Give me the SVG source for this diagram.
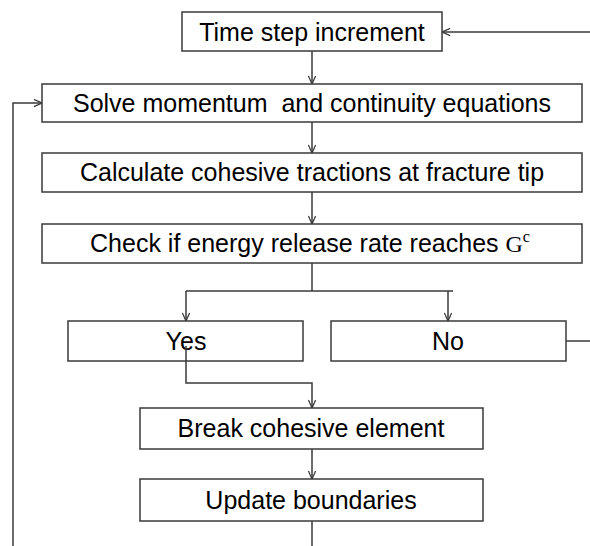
<svg xmlns="http://www.w3.org/2000/svg" width="590" height="546" viewBox="0 0 590 546">
  <style>
    .box { fill: #ffffff; stroke: #3a3a3a; stroke-width: 1.5; }
    .lbl { font-family: "Liberation Sans", Arial, sans-serif; font-size: 25px; fill: #000000; text-anchor: middle; }
    .ser { font-family: "Liberation Serif", "Times New Roman", serif; }
    .wire { fill: none; stroke: #3a3a3a; stroke-width: 1.5; }
  </style>
  <defs>
    <marker id="arr" viewBox="0 0 10 10" refX="10" refY="5" markerWidth="9" markerHeight="9" orient="auto" markerUnits="userSpaceOnUse">
      <path d="M1,1 L10,5 L1,9" fill="none" stroke="#3a3a3a" stroke-width="1.4"/>
    </marker>
  </defs>
  <rect width="590" height="546" fill="#ffffff"/>

  <!-- connectors -->
  <g id="connectors">
    <path class="wire" d="M590,32 H442" marker-end="url(#arr)"/>
    <path class="wire" d="M312,51 V84" marker-end="url(#arr)"/>
    <path class="wire" d="M312,122 V153" marker-end="url(#arr)"/>
    <path class="wire" d="M312,192 V224" marker-end="url(#arr)"/>
    <path class="wire" d="M312,263 V291"/>
    <path class="wire" d="M186,291 H453"/>
    <path class="wire" d="M186,291 V321" marker-end="url(#arr)"/>
    <path class="wire" d="M448,291 V321" marker-end="url(#arr)"/>
    <path class="wire" d="M566,341 H590"/>
    <path class="wire" d="M312,449 V479" marker-end="url(#arr)"/>
    <path class="wire" d="M312,521 V546"/>
    <path class="wire" d="M13,546 V103 H42" marker-end="url(#arr)"/>
  </g>

  <g id="time-step">
    <rect class="box" x="182" y="12" width="260" height="39"/>
    <text class="lbl" x="312" y="41">Time step increment</text>
  </g>
  <g id="solve">
    <rect class="box" x="42" y="84" width="540" height="38"/>
    <text class="lbl" x="312" y="112" xml:space="preserve">Solve momentum  and continuity equations</text>
  </g>
  <g id="tractions">
    <rect class="box" x="42" y="153" width="540" height="39"/>
    <text class="lbl" x="312" y="181">Calculate cohesive tractions at fracture tip</text>
  </g>
  <g id="check">
    <rect class="box" x="42" y="224" width="540" height="39"/>
    <text class="lbl" x="310" y="252">Check if energy release rate reaches <tspan class="ser" font-size="24">G</tspan><tspan class="ser" font-size="16" dy="-10">c</tspan></text>
  </g>
  <g id="yes">
    <rect class="box" x="68" y="321" width="235" height="40"/>
    <text class="lbl" x="186" y="350">Yes</text>
  </g>
  <g id="no">
    <rect class="box" x="331" y="321" width="235" height="40"/>
    <text class="lbl" x="448" y="350">No</text>
  </g>
  <!-- Yes branch leads down to the break step -->
  <path class="wire" d="M186,346 V383 H312 V408" marker-end="url(#arr)"/>
  <g id="break">
    <rect class="box" x="140" y="408" width="343" height="41"/>
    <text class="lbl" x="311" y="437">Break cohesive element</text>
  </g>
  <g id="update">
    <rect class="box" x="140" y="479" width="343" height="42"/>
    <text class="lbl" x="311" y="509">Update boundaries</text>
  </g>
</svg>
